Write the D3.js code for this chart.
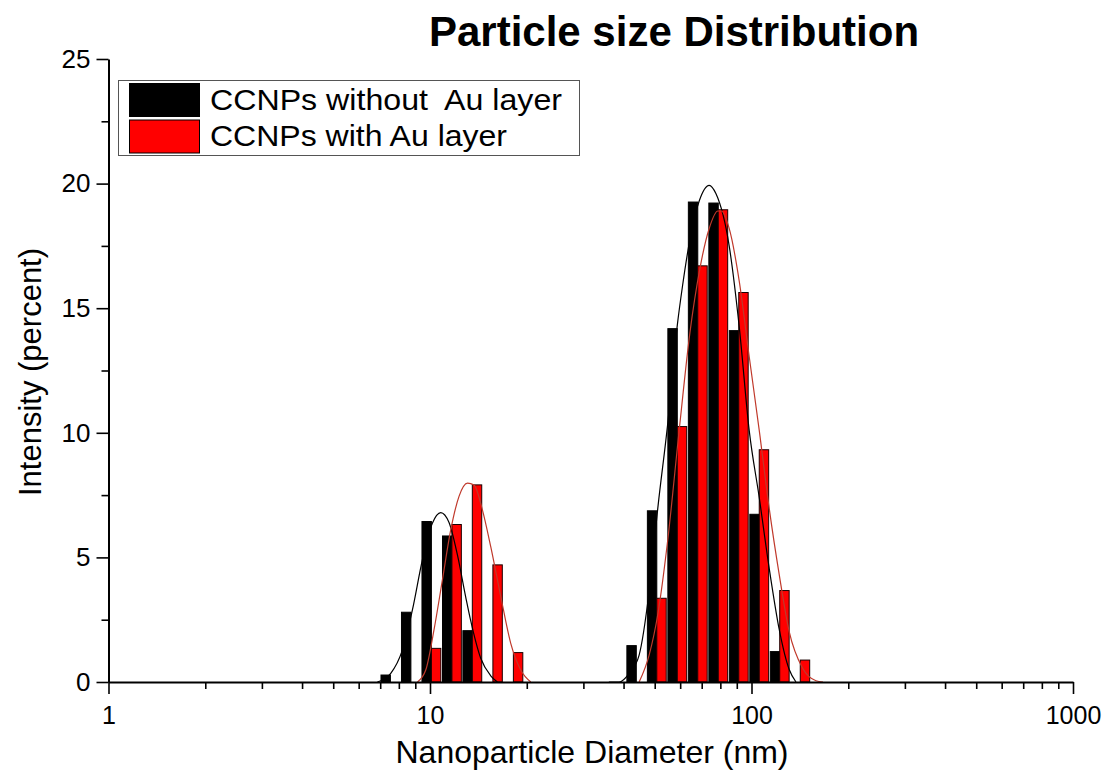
<!DOCTYPE html>
<html>
<head>
<meta charset="utf-8">
<script src="https://cdn.jsdelivr.net/npm/d3@7"></script>
<style>
  html, body { margin: 0; padding: 0; background: #fff; }
  svg { display: block; font-family: "Liberation Sans", Arial, sans-serif; }
</style>
</head>
<body>
<svg id="chart" width="1105" height="776"></svg>
<script>
// DLS size bins (nm) and intensity (%) for each sample
const blackDiameters = [7.531, 8.721, 10.1, 11.7, 13.54, 43.82, 50.75, 58.77, 68.06, 78.82, 91.28, 105.7, 122.4];
const blackIntensity = [0.28, 2.8, 6.44, 5.86, 2.06, 1.46, 6.87, 14.18, 19.26, 19.22, 14.1, 6.73, 1.22];
const redDiameters   = [10.1, 11.7, 13.54, 15.69, 18.17, 50.75, 58.77, 68.06, 78.82, 91.28, 105.7, 122.4, 141.8];
const redIntensity   = [1.35, 6.32, 7.91, 4.7, 1.18, 3.36, 10.25, 16.7, 18.95, 15.63, 9.32, 3.67, 0.88];

// Fitted distribution curves: [diameter nm, intensity %]
const blackFitSmall = [[6.86,0],[7.55,0.35],[8.21,1.29],[8.82,2.9],[9.47,4.9],[10.17,6.37],[10.80,6.8],[11.46,6.4],[12.17,5.1],[12.92,3.4],[13.39,2.45],[14.38,0.95],[15.45,0.25],[16.2,0]];
const redFitSmall   = [[9.14,0],[9.70,0.48],[10.29,2.09],[10.93,4.1],[11.60,6.1],[12.31,7.45],[13.08,7.98],[13.71,7.9],[14.56,6.9],[15.45,5.43],[16.60,3.43],[17.83,1.55],[19.15,0.48],[20.58,0]];
const blackFitLarge = [[36.0,0],[38.74,0],[41.64,0.35],[44.72,1.08],[48.04,3.63],[51.24,7.1],[54.81,10.3],[58.88,14.4],[61.03,15.9],[64.31,17.75],[68.76,19.3],[73.86,19.93],[77.49,19.6],[85.23,17.5],[91.56,14.27],[98.36,10.1],[105.7,7.4],[113.5,4.57],[122.0,2.1],[131.0,0.5],[137.5,0]];
const redFitLarge   = [[44.72,0],[48.04,1.08],[51.24,2.8],[54.81,5.63],[59.57,10.1],[64.31,14.0],[69.12,16.6],[73.86,18.2],[78.62,18.9],[80.5,18.9],[85.23,18.2],[91.56,16.1],[98.36,13.06],[105.7,10.1],[113.5,6.98],[122.0,4.3],[131.0,2.02],[144.2,0.55],[158.7,0.05],[166.9,0]];

// Axis ticks
const xMajorTicks = [1, 10, 100, 1000];
const xMinorTicks = [2,3,4,5,6,7,8,9,20,30,40,50,60,70,80,90,200,300,400,500,600,700,800,900];
const yMajorTicks = [0, 5, 10, 15, 20, 25];
const yMinorTicks = [2.5, 7.5, 12.5, 17.5, 22.5];

const seriesNames = ["CCNPs without  Au layer", "CCNPs with Au layer"];
const seriesColors = ["#000000", "#ff0000"];
const curveColors = ["#000000", "#c0392b"];

const svg = d3.select("#chart");
const x = d3.scaleLog().domain([1, 1000]).range([108.5, 1073]);
const y = d3.scaleLinear().domain([0, 25]).range([682, 59]);

// bar width derived from the spacing of neighbouring log bins
const binStep = x(blackDiameters[1]) - x(blackDiameters[0]);
const barW = binStep * 0.46;

// Bars: black sits left of its bin centre, red right of it
const bars = svg.append("g");
bars.selectAll("rect.black")
  .data(d3.zip(blackDiameters, blackIntensity))
  .join("rect")
  .attr("x", d => x(d[0]) - barW)
  .attr("y", d => y(d[1]))
  .attr("width", barW)
  .attr("height", d => y(0) - y(d[1]))
  .attr("fill", seriesColors[0])
  .attr("stroke", "#000")
  .attr("stroke-width", 1);

bars.selectAll("rect.red")
  .data(d3.zip(redDiameters, redIntensity))
  .join("rect")
  .attr("x", d => x(d[0]))
  .attr("y", d => y(d[1]))
  .attr("width", barW)
  .attr("height", d => y(0) - y(d[1]))
  .attr("fill", seriesColors[1])
  .attr("stroke", "#1a0000")
  .attr("stroke-width", 1);

// Fit curves
const line = d3.line().x(d => x(d[0])).y(d => y(d[1])).curve(d3.curveMonotoneX);
const curves = svg.append("g").attr("fill", "none");
[[blackFitSmall, 0], [blackFitLarge, 0], [redFitSmall, 1], [redFitLarge, 1]].forEach(([pts, i]) => {
  curves.append("path")
    .attr("d", line(pts))
    .attr("stroke", curveColors[i])
    .attr("stroke-width", 1.2);
});

// Axes
function styleAxis(g) {
  g.selectAll("path.domain").attr("stroke", "#000").attr("stroke-width", 2);
  g.selectAll(".tick line").attr("stroke", "#000").attr("stroke-width", 1.6);
}

const yAxis = svg.append("g").attr("transform", `translate(${x(1)},0)`)
  .call(d3.axisLeft(y).tickValues(yMajorTicks).tickSize(12).tickSizeOuter(0).tickPadding(6))
  .call(styleAxis);
yAxis.selectAll("text").attr("font-size", 26).attr("fill", "#000")
  .attr("font-family", "Liberation Sans, Arial, sans-serif");
svg.append("g").attr("transform", `translate(${x(1)},0)`)
  .call(d3.axisLeft(y).tickValues(yMinorTicks).tickSize(7).tickSizeOuter(0).tickFormat(""))
  .call(g => g.select("path.domain").remove())
  .call(styleAxis);

const xAxis = svg.append("g").attr("transform", `translate(0,${y(0)})`)
  .call(d3.axisBottom(x).tickValues(xMajorTicks).tickFormat(d3.format("d")).tickSize(12).tickSizeOuter(0).tickPadding(12))
  .call(styleAxis);
xAxis.selectAll("text").attr("font-size", 25).attr("fill", "#000")
  .attr("font-family", "Liberation Sans, Arial, sans-serif");
svg.append("g").attr("transform", `translate(0,${y(0)})`)
  .call(d3.axisBottom(x).tickValues(xMinorTicks).tickSize(7).tickSizeOuter(0).tickFormat(""))
  .call(g => g.select("path.domain").remove())
  .call(styleAxis);

// Titles
svg.append("text")
  .attr("x", 674).attr("y", 46)
  .attr("text-anchor", "middle")
  .attr("font-size", 42).attr("font-weight", "bold")
  .text("Particle size Distribution");

svg.append("text")
  .attr("x", 592).attr("y", 763)
  .attr("text-anchor", "middle")
  .attr("font-size", 32)
  .text("Nanoparticle Diameter (nm)");

svg.append("text")
  .attr("transform", "translate(41,372) rotate(-90)")
  .attr("text-anchor", "middle")
  .attr("font-size", 31)
  .text("Intensity (percent)");

// Legend
const legend = svg.append("g");
legend.append("rect")
  .attr("x", 118.5).attr("y", 80.5).attr("width", 461).attr("height", 75)
  .attr("fill", "#fff").attr("stroke", "#555").attr("stroke-width", 1);
const legendRows = [{ y: 83.5, base: 110, len: 352 }, { y: 120, base: 146, len: 297 }];
legendRows.forEach((r, i) => {
  legend.append("rect")
    .attr("x", 129.5).attr("y", r.y).attr("width", 70).attr("height", 33)
    .attr("fill", seriesColors[i]).attr("stroke", "#000").attr("stroke-width", 1);
  legend.append("text")
    .attr("x", 210).attr("y", r.base)
    .attr("font-size", 29)
    .attr("textLength", r.len).attr("lengthAdjust", "spacingAndGlyphs")
    .attr("xml:space", "preserve")
    .style("white-space", "pre")
    .text(seriesNames[i]);
});
</script>
</body>
</html>
